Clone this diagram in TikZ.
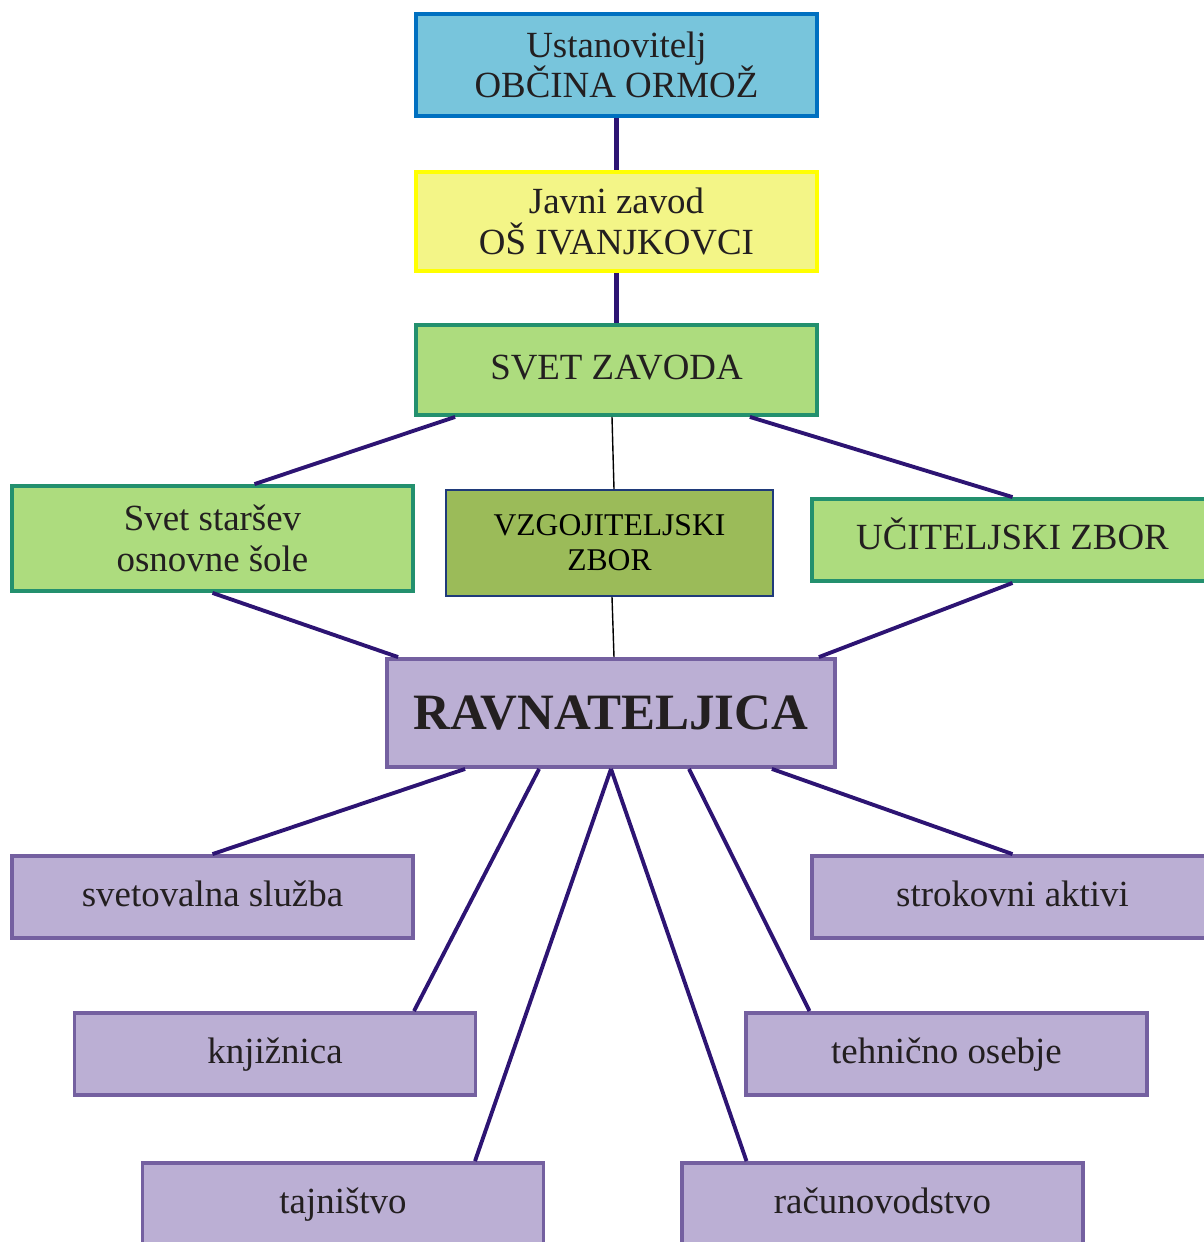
\documentclass[tikz,border=0pt]{standalone}
\usepackage{fontspec}
\setmainfont{Liberation Serif}
\usetikzlibrary{positioning,calc}

\definecolor{txt}{HTML}{231F20}
\definecolor{linkcol}{HTML}{2D1473}
\definecolor{bluefill}{HTML}{78C5DC}
\definecolor{blueline}{HTML}{0070C0}
\definecolor{yelfill}{HTML}{F3F587}
\definecolor{yelline}{HTML}{FFFF00}
\definecolor{grnfill}{HTML}{ADDC7E}
\definecolor{grnline}{HTML}{23906E}
\definecolor{olvfill}{HTML}{9BBB59}
\definecolor{olvline}{HTML}{1F3A7A}
\definecolor{lavfill}{HTML}{BBAFD4}
\definecolor{lavline}{HTML}{7460A0}

\begin{document}
\begin{tikzpicture}[x=0.02cm,y=-0.02cm,
    box/.style={draw,line width=2.2pt,minimum width=8.02cm,inner sep=2pt,align=center,
                text=txt,font=\fontsize{21}{23}\selectfont},
    oneline/.style={text height=15pt,text depth=4.6pt},
    founder/.style={box,fill=bluefill,draw=blueline,minimum height=2.04cm},
    school/.style={box,fill=yelfill,draw=yelline,minimum height=1.98cm},
    council/.style={box,fill=grnfill,draw=grnline},
    staff/.style={box,fill=olvfill,draw=olvline,line width=1.1pt,minimum width=6.54cm,
                  minimum height=2.12cm,text=black,font=\fontsize{18}{20}\selectfont},
    head/.style={box,fill=lavfill,draw=lavline,minimum width=8.96cm,minimum height=2.16cm,
                 font=\fontsize{29}{31}\selectfont\bfseries},
    unit/.style={box,oneline,fill=lavfill,draw=lavline,minimum height=1.64cm},
    link/.style={draw=linkcol,line width=2.2pt},
    thin/.style={draw=black,line width=0.8pt}]
  \useasboundingbox (0,0) rectangle (1204,1242);

  \node[founder] (ust)   at (616.5,65)    {Ustanovitelj\\OBČINA ORMOŽ};
  \node[school]  (javni) at (616.5,221.5) {Javni zavod\\OŠ IVANJKOVCI};
  \node[council,oneline,minimum height=1.8cm] (svet) at (616.5,370) {SVET ZAVODA};

  \node[council,minimum height=2.1cm]  (stars) at (212.5,538.5) {Svet staršev\\osnovne šole};
  \node[staff]                         (vzg)   at (609.5,543)   {VZGOJITELJSKI\\ZBOR};
  \node[council,oneline,minimum height=1.64cm] (uci) at (1012.5,540) {UČITELJSKI ZBOR};

  \node[head] (rav) at (611,713) {RAVNATELJICA};

  \node[unit] (svetov) at (212.5,897)  {svetovalna služba};
  \node[unit] (strok)  at (1012.5,897) {strokovni aktivi};
  \node[unit] (knjiz)  at (275,1054)   {knjižnica};
  \node[unit] (tehn)   at (946.5,1054) {tehnično osebje};
  \node[unit] (tajn)   at (343,1204)   {tajništvo};
  \node[unit] (racun)  at (882.5,1204) {računovodstvo};

  \path[link]
    (ust.south)   edge[line width=2.6pt] (javni.north)
    (javni.south) edge[line width=2.6pt] (svet.north)
    ($(svet.south west)+(41,0)$)  edge ($(stars.north)+(42,0)$)
    ($(svet.south east)+(-69,0)$) edge (uci.north)
    (stars.south) edge ($(rav.north west)+(13,0)$)
    (uci.south)   edge ($(rav.north east)+(-18,0)$)
    ($(rav.south west)+(80,0)$)  edge (svetov.north)
    ($(rav.south west)+(154,0)$) edge ($(knjiz.north)+(139,0)$)
    (rav.south) edge ($(tajn.north)+(132,0)$)
    (rav.south) edge ($(racun.north)+(-136,0)$)
    ($(rav.south)+(78,0)$)       edge ($(tehn.north)+(-137,0)$)
    ($(rav.south east)+(-65,0)$) edge (strok.north);
  \path[thin]
    ($(svet.south)+(-4.5,0)$) edge ($(vzg.north)+(4.5,0)$)
    ($(vzg.south)+(2.5,0)$)   edge ($(rav.north)+(3,0)$);
\end{tikzpicture}
\end{document}
